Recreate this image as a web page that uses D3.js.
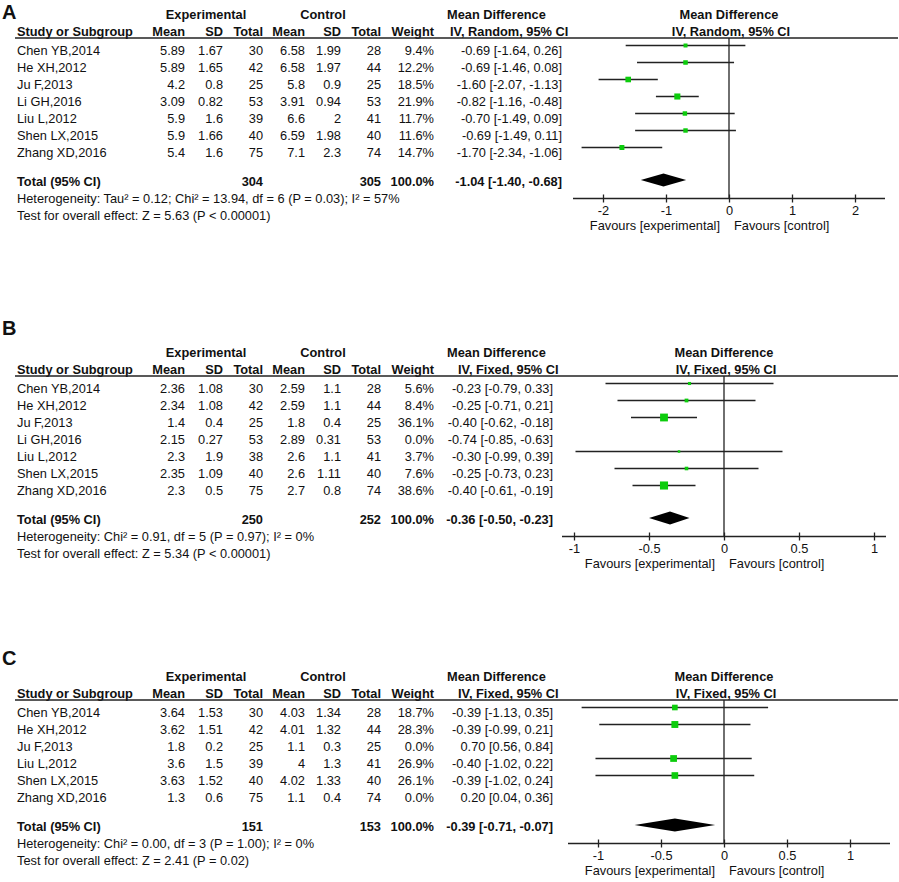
<!DOCTYPE html>
<html>
<head>
    <title>Forest plots A, B, C</title>
    <script src="https://d3js.org/d3.v7.min.js"></script>
    <style>
        body { margin: 0; background: #fff; }
        svg text { font-family: "Liberation Sans", Arial, sans-serif; font-size: 12.8px; fill: #111; }
        .bold { font-weight: bold; }
        .label { font-size: 20px; font-weight: bold; }
        .line { stroke: #222; stroke-width: 1.3px; fill: none; }
    </style>
</head>
<body>
<div id="chart"></div>
<script>
// ---- Panel A data ----
const studiesA = ["Chen YB,2014", "He XH,2012", "Ju F,2013", "Li GH,2016", "Liu L,2012", "Shen LX,2015", "Zhang XD,2016"];
// exp mean, exp sd, exp n, ctl mean, ctl sd, ctl n, weight %
const statsA = [
    [5.89, 1.67, 30, 6.58, 1.99, 28, 9.4],
    [5.89, 1.65, 42, 6.58, 1.97, 44, 12.2],
    [4.2, 0.8, 25, 5.8, 0.9, 25, 18.5],
    [3.09, 0.82, 53, 3.91, 0.94, 53, 21.9],
    [5.9, 1.6, 39, 6.6, 2, 41, 11.7],
    [5.9, 1.66, 40, 6.59, 1.98, 40, 11.6],
    [5.4, 1.6, 75, 7.1, 2.3, 74, 14.7]
];
// mean difference, lower, upper
const effectA = [[-0.69, -1.64, 0.26], [-0.69, -1.46, 0.08], [-1.60, -2.07, -1.13], [-0.82, -1.16, -0.48], [-0.70, -1.49, 0.09], [-0.69, -1.49, 0.11], [-1.70, -2.34, -1.06]];
const totalA = [304, 305, 100.0, -1.04, -1.40, -0.68];
const notesA = ["Heterogeneity: Tau² = 0.12; Chi² = 13.94, df = 6 (P = 0.03); I² = 57%", "Test for overall effect: Z = 5.63 (P < 0.00001)"];
const ticksA = [-2, -1, 0, 1, 2];

// ---- Panel B data ----
const studiesB = ["Chen YB,2014", "He XH,2012", "Ju F,2013", "Li GH,2016", "Liu L,2012", "Shen LX,2015", "Zhang XD,2016"];
const statsB = [
    [2.36, 1.08, 30, 2.59, 1.1, 28, 5.6],
    [2.34, 1.08, 42, 2.59, 1.1, 44, 8.4],
    [1.4, 0.4, 25, 1.8, 0.4, 25, 36.1],
    [2.15, 0.27, 53, 2.89, 0.31, 53, 0.0],
    [2.3, 1.9, 38, 2.6, 1.1, 41, 3.7],
    [2.35, 1.09, 40, 2.6, 1.11, 40, 7.6],
    [2.3, 0.5, 75, 2.7, 0.8, 74, 38.6]
];
const effectB = [[-0.23, -0.79, 0.33], [-0.25, -0.71, 0.21], [-0.40, -0.62, -0.18], [-0.74, -0.85, -0.63], [-0.30, -0.99, 0.39], [-0.25, -0.73, 0.23], [-0.40, -0.61, -0.19]];
const totalB = [250, 252, 100.0, -0.36, -0.50, -0.23];
const notesB = ["Heterogeneity: Chi² = 0.91, df = 5 (P = 0.97); I² = 0%", "Test for overall effect: Z = 5.34 (P < 0.00001)"];
const ticksB = [-1, -0.5, 0, 0.5, 1];

// ---- Panel C data ----
const studiesC = ["Chen YB,2014", "He XH,2012", "Ju F,2013", "Liu L,2012", "Shen LX,2015", "Zhang XD,2016"];
const statsC = [
    [3.64, 1.53, 30, 4.03, 1.34, 28, 18.7],
    [3.62, 1.51, 42, 4.01, 1.32, 44, 28.3],
    [1.8, 0.2, 25, 1.1, 0.3, 25, 0.0],
    [3.6, 1.5, 39, 4, 1.3, 41, 26.9],
    [3.63, 1.52, 40, 4.02, 1.33, 40, 26.1],
    [1.3, 0.6, 75, 1.1, 0.4, 74, 0.0]
];
const effectC = [[-0.39, -1.13, 0.35], [-0.39, -0.99, 0.21], [0.70, 0.56, 0.84], [-0.40, -1.02, 0.22], [-0.39, -1.02, 0.24], [0.20, 0.04, 0.36]];
const totalC = [151, 153, 100.0, -0.39, -0.71, -0.07];
const notesC = ["Heterogeneity: Chi² = 0.00, df = 3 (P = 1.00); I² = 0%", "Test for overall effect: Z = 2.41 (P = 0.02)"];
const ticksC = [-1, -0.5, 0, 0.5, 1];

const width = 899, height = 882;
const svg = d3.select("#chart").append("svg").attr("width", width).attr("height", height);

// right edges of the numeric columns
const colX = [185, 223, 263, 305, 341, 381, 434];
const colHead = ["Mean", "SD", "Total", "Mean", "SD", "Total", "Weight"];
const squareSize = d3.scaleSqrt().domain([0, 100]).range([0, 13]);
const f2 = d3.format(".2f");
const fmt = v => f2(v).replace("−", "-");

function drawPanel(cfg, studies, stats, effects, total, notes, ticks) {
    const g = svg.append("g");
    const y0 = cfg.y0;
    const x = d3.scaleLinear().domain([-1, 1]).range([cfg.zero - cfg.unit, cfg.zero + cfg.unit]);

    g.append("text").attr("class", "label").attr("x", 2).attr("y", cfg.labelY).text(cfg.label);

    // headers
    g.append("text").attr("class", "bold").attr("x", 206).attr("y", y0 + 4).attr("text-anchor", "middle").text("Experimental");
    g.append("text").attr("class", "bold").attr("x", 323).attr("y", y0 + 4).attr("text-anchor", "middle").text("Control");
    g.append("text").attr("class", "bold").attr("x", 447).attr("y", y0 + 4).text("Mean Difference");
    g.append("text").attr("class", "bold").attr("x", cfg.zero).attr("y", y0 + 4).attr("text-anchor", "middle").text("Mean Difference");
    g.append("text").attr("class", "bold").attr("x", 17).attr("y", y0 + 21).text("Study or Subgroup");
    colHead.forEach((h, i) => {
        g.append("text").attr("class", "bold").attr("x", colX[i]).attr("y", y0 + 21).attr("text-anchor", "end").text(h);
    });
    g.append("text").attr("class", "bold").attr("x", cfg.ivX).attr("y", y0 + 21).text(cfg.method);
    g.append("text").attr("class", "bold").attr("x", cfg.zero + 2).attr("y", y0 + 21).attr("text-anchor", "middle").text(cfg.method);
    g.append("line").attr("class", "line").attr("x1", 15).attr("x2", 898).attr("y1", y0 + 23).attr("y2", y0 + 23);

    const rowY = i => y0 + 35 + 17 * i;
    const totalY = rowY(studies.length - 1) + 29;
    const hetY = totalY + 17.5;
    const axisY = hetY;

    // zero line
    g.append("line").attr("class", "line").attr("x1", x(0)).attr("x2", x(0)).attr("y1", y0 + 23).attr("y2", axisY);

    studies.forEach((s, i) => {
        const ty = rowY(i) + 4.5;
        g.append("text").attr("x", 17).attr("y", ty).text(s);
        stats[i].forEach((v, j) => {
            g.append("text").attr("x", colX[j]).attr("y", ty).attr("text-anchor", "end")
                .text(j === 6 ? v.toFixed(1) + "%" : String(v));
        });
        const e = effects[i];
        g.append("text").attr("x", cfg.mdRight).attr("y", ty).attr("text-anchor", "end")
            .text(`${fmt(e[0])} [${fmt(e[1])}, ${fmt(e[2])}]`);
        if (stats[i][6] > 0) {
            const my = rowY(i) - 4.5;
            g.append("line").attr("class", "line").attr("x1", x(e[1])).attr("x2", x(e[2])).attr("y1", my).attr("y2", my);
            const s2 = squareSize(stats[i][6]);
            g.append("rect").attr("x", x(e[0]) - s2 / 2).attr("y", my - s2 / 2)
                .attr("width", s2).attr("height", s2).attr("fill", "#0ccc0c");
        }
    });

    // total row
    const tty = totalY + 4.5;
    g.append("text").attr("class", "bold").attr("x", 17).attr("y", tty).text("Total (95% CI)");
    g.append("text").attr("class", "bold").attr("x", colX[2]).attr("y", tty).attr("text-anchor", "end").text(total[0]);
    g.append("text").attr("class", "bold").attr("x", colX[5]).attr("y", tty).attr("text-anchor", "end").text(total[1]);
    g.append("text").attr("class", "bold").attr("x", colX[6]).attr("y", tty).attr("text-anchor", "end").text(total[2].toFixed(1) + "%");
    g.append("text").attr("class", "bold").attr("x", cfg.mdRight).attr("y", tty).attr("text-anchor", "end")
        .text(`${fmt(total[3])} [${fmt(total[4])}, ${fmt(total[5])}]`);
    const dy = totalY - 1;
    g.append("path").attr("fill", "#000")
        .attr("d", `M${x(total[4])},${dy} L${x(total[3])},${dy - 6.5} L${x(total[5])},${dy} L${x(total[3])},${dy + 6.5} Z`);

    notes.forEach((n, i) => {
        g.append("text").attr("x", 17).attr("y", hetY + 4.5 + 17 * i).text(n);
    });

    // axis
    const ax = g.append("g").attr("transform", `translate(0,${axisY})`)
        .call(d3.axisBottom(x).tickValues(ticks).tickSize(4).tickFormat(d => String(d)));
    ax.select(".domain").remove();
    ax.selectAll(".tick line").attr("y1", -4).attr("y2", 4).attr("stroke", "#222").attr("stroke-width", 1.3);
    ax.selectAll(".tick text").attr("y", 12).attr("dy", "0.35em").style("font-size", "12.8px").attr("fill", "#111");
    g.append("line").attr("class", "line").attr("x1", cfg.axisL).attr("x2", cfg.axisR).attr("y1", axisY).attr("y2", axisY);
    g.append("text").attr("x", x(0) - 9).attr("y", axisY + 31).attr("text-anchor", "end").text("Favours [experimental]");
    g.append("text").attr("x", x(0) + 5).attr("y", axisY + 31).text("Favours [control]");
}

drawPanel({label: "A", labelY: 19, y0: 15, zero: 729, unit: 63, axisL: 573, axisR: 885, mdRight: 562, ivX: 450, method: "IV, Random, 95% CI"},
    studiesA, statsA, effectA, totalA, notesA, ticksA);
drawPanel({label: "B", labelY: 335, y0: 353, zero: 724, unit: 150, axisL: 562, axisR: 886, mdRight: 553, ivX: 458, method: "IV, Fixed, 95% CI"},
    studiesB, statsB, effectB, totalB, notesB, ticksB);
drawPanel({label: "C", labelY: 665, y0: 677, zero: 724, unit: 126, axisL: 568, axisR: 890, mdRight: 553, ivX: 458, method: "IV, Fixed, 95% CI"},
    studiesC, statsC, effectC, totalC, notesC, ticksC);
</script>
</body>
</html>
